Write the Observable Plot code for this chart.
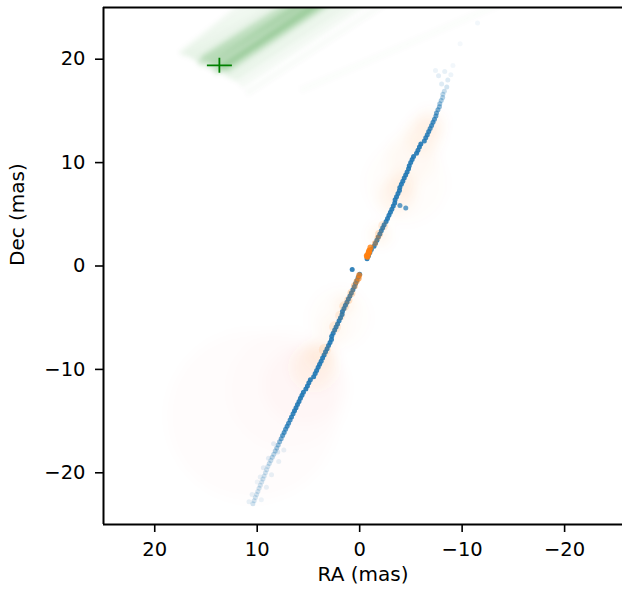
<!DOCTYPE html>
<html><head><meta charset="utf-8">
<script src="https://cdn.jsdelivr.net/npm/d3@7"></script>
<script src="https://cdn.jsdelivr.net/npm/@observablehq/plot@0.6"></script>
<style>html,body{margin:0;padding:0;background:#fff;overflow:hidden} svg{display:block}</style>
</head><body><div id="chart"></div>
<script>
// axis ticks and labels
const xTicks = [20, 10, 0, -10, -20];
const yTicks = [20, 10, 0, -10, -20];
const xLabel = "RA (mas)";
const yLabel = "Dec (mas)";

// green trajectory samples: [ra1, dec1, ra2, dec2, alpha]
const greenLines = [
  [15.07,19.29,1.93,27.61,0.1],[14.59,19.10,1.15,27.61,0.1],[14.10,18.91,0.47,27.61,0.1],
  [15.56,19.68,2.90,27.61,0.1],[16.05,19.87,4.07,27.61,0.08],[16.53,20.16,5.34,27.61,0.07],
  [17.02,20.36,6.80,27.61,0.06],[17.51,20.45,8.26,27.61,0.05],[13.61,18.71,-0.21,27.61,0.09],
  [13.13,18.42,-0.99,27.61,0.07],[12.64,18.13,-1.97,27.61,0.06],[12.15,17.94,-2.94,27.61,0.05],
  [14.39,19.49,2.41,27.61,0.1],[14.78,19.68,1.44,27.61,0.1],[13.81,19.29,0.76,27.61,0.1],
  [15.75,19.49,2.41,27.61,0.09],[11.67,17.46,-3.91,27.61,0.04],[11.08,16.68,-5.86,27.61,0.025],
  [13.42,19.10,0.18,27.61,0.1],[15.37,20.07,3.39,27.61,0.09],[14.20,18.71,0.95,27.61,0.1],
  [13.03,18.91,-0.21,27.61,0.09],[5.82,16.97,-15.60,26.16,0.015]
];
const greenMarker = [[13.69, 19.41]];

// blue components, upper jet: [ra, dec, alpha]
const blueUpper = [
  [-0.72,0.7,0.9],[-0.86,1.0,0.9],[-1.00,1.3,0.9],[-1.14,1.6,0.9],[-1.40,1.9,0.9],[-1.54,2.2,0.9],
  [-1.68,2.5,0.9],[-1.82,2.8,0.9],[-1.97,3.1,0.9],[-2.11,3.4,0.9],[-2.25,3.7,0.9],[-2.39,4.0,0.9],
  [-2.58,4.3,0.9],[-2.72,4.6,0.9],[-2.86,4.9,0.9],[-3.00,5.2,0.9],[-3.14,5.5,0.9],[-3.28,5.8,0.9],
  [-3.42,6.1,0.9],[-3.46,6.4,0.9],[-3.60,6.7,0.9],[-3.74,7.0,0.9],[-3.88,7.3,0.9],[-3.92,7.6,0.9],
  [-4.07,7.9,0.9],[-4.21,8.2,0.9],[-4.35,8.5,0.9],[-4.49,8.8,0.9],[-4.63,9.1,0.9],[-4.77,9.4,0.9],
  [-4.84,9.7,0.9],[-4.98,10.0,0.9],[-5.12,10.3,0.9],[-5.26,10.6,0.9],[-5.55,10.9,0.9],[-5.69,11.2,0.9],
  [-5.83,11.5,0.9],[-5.97,11.8,0.9],[-6.31,12.1,0.85],[-6.45,12.4,0.85],[-6.60,12.7,0.85],[-6.74,13.0,0.85],
  [-6.88,13.3,0.8],[-7.02,13.6,0.8],[-7.16,13.9,0.8],[-7.30,14.2,0.75],[-7.44,14.5,0.7],[-7.50,14.8,0.65],
  [-7.64,15.1,0.6],[-7.78,15.4,0.5],[-7.82,15.7,0.45],[-7.96,16.0,0.4],[-8.10,16.3,0.35],[-8.12,16.6,0.3],
  [-8.26,16.9,0.25],[-8.5,17.3,0.2],[-8.0,17.6,0.15],[-8.6,18.0,0.15],[-7.7,18.4,0.12],[-8.3,18.8,0.1],
  [-8.9,18.5,0.08],[-7.4,18.9,0.08],[-9.1,19.4,0.06],[-11.5,23.5,0.06],[-9.8,21.5,0.05],
  [-3.93,5.86,0.7],[-4.50,5.60,0.7],[0.73,-0.34,0.9]
];

// blue components, lower jet: [ra, dec, alpha]
const blueLower = [
  [0.00,-0.8,0.9],[0.14,-1.1,0.9],[0.27,-1.4,0.9],[0.40,-1.7,0.9],[0.52,-2.0,0.9],[0.66,-2.3,0.9],
  [0.81,-2.6,0.9],[0.95,-2.9,0.9],[1.10,-3.2,0.9],[1.24,-3.5,0.9],[1.39,-3.8,0.9],[1.53,-4.1,0.9],
  [1.68,-4.4,0.9],[1.72,-4.7,0.9],[1.87,-5.0,0.9],[2.01,-5.3,0.9],[2.16,-5.6,0.9],[2.30,-5.9,0.9],
  [2.44,-6.2,0.9],[2.59,-6.5,0.9],[2.73,-6.8,0.9],[2.75,-7.1,0.9],[2.89,-7.4,0.9],[3.04,-7.7,0.9],
  [3.18,-8.0,0.9],[3.33,-8.3,0.9],[3.47,-8.6,0.9],[3.62,-8.9,0.9],[3.76,-9.2,0.9],[3.91,-9.5,0.9],
  [4.05,-9.8,0.9],[4.20,-10.1,0.9],[4.34,-10.4,0.9],[4.49,-10.7,0.9],[4.81,-11.0,0.9],[4.96,-11.3,0.9],
  [5.10,-11.6,0.9],[5.25,-11.9,0.9],[5.49,-12.2,0.9],[5.63,-12.5,0.9],[5.78,-12.8,0.9],[5.92,-13.1,0.9],
  [6.07,-13.4,0.9],[6.21,-13.7,0.9],[6.36,-14.0,0.9],[6.50,-14.3,0.85],[6.65,-14.6,0.85],[6.79,-14.9,0.8],
  [6.94,-15.2,0.8],[7.08,-15.5,0.8],[7.23,-15.8,0.75],[7.37,-16.1,0.75],[7.52,-16.4,0.7],[7.66,-16.7,0.6],
  [7.81,-17.0,0.5],[7.95,-17.3,0.45],[8.09,-17.6,0.4],[8.24,-17.9,0.35],[8.38,-18.2,0.3],[8.53,-18.5,0.3],
  [8.67,-18.8,0.25],[8.82,-19.1,0.25],[8.96,-19.4,0.2],[9.08,-19.7,0.2],[9.20,-20.0,0.2],[9.32,-20.3,0.2],
  [9.44,-20.6,0.2],[9.56,-20.9,0.2],[9.70,-21.2,0.2],[9.82,-21.5,0.2],[9.94,-21.8,0.2],[10.06,-22.1,0.2],
  [10.18,-22.4,0.2],[10.30,-22.7,0.2],[10.42,-23.0,0.2],
  [8.0,-18.0,0.15],[8.9,-18.6,0.12],[7.9,-18.9,0.1],[9.4,-19.5,0.12],[8.6,-20.2,0.1],[9.7,-20.4,0.1],
  [10.0,-20.9,0.08],[9.1,-21.4,0.1],[10.5,-22.1,0.1],[9.6,-22.6,0.08],[10.8,-22.8,0.1],[7.4,-17.8,0.1],
  [8.4,-17.2,0.12]
];

// orange compact components: [ra, dec, radius px, alpha]
const orangeCompact = [
  [-0.75,0.9,3,0.9],[-0.85,1.2,3,0.9],[-0.95,1.5,3,0.9],[-1.05,1.8,3,0.8],[-0.9,1.35,3,0.9],[-0.7,1.0,3,0.9],
  [-1.5,2.2,3,0.4],[-1.75,2.7,3,0.3],[-1.9,3.1,4,0.2],[-2.3,3.9,5,0.12],
  [0.05,-0.9,3,0.7],[0.1,-1.2,3,0.6],[0.3,-1.5,3,0.5],[0.5,-1.9,3.5,0.35],[0.8,-2.6,4,0.25],
  [1.1,-3.3,4,0.2],[1.5,-3.9,5,0.15],[1.9,-4.8,5,0.1],[2.4,-5.9,6,0.1],[3.4,-8.1,6,0.1]
];

// orange extended components: [ra, dec, radius px, alpha]
const orangeExtended = [
  [-2.0,3.0,10,0.07],[-3.6,6.8,18,0.06],[-4.2,8.0,14,0.05],[-5.1,10.5,25,0.03],[-6.2,12.6,18,0.06],
  [-6.9,13.8,14,0.05],[-4.5,8.0,40,0.015],[1.5,-3.8,10,0.07],[2.5,-6.0,14,0.04],[3.8,-8.5,14,0.06],
  [4.5,-9.8,22,0.06],[5.5,-11.5,40,0.02],[2.0,-5.0,30,0.015],[10.5,-14.5,85,0.012],[7.0,-12.0,60,0.01]
];

const cross = {draw(ctx) {ctx.moveTo(-12.5, 0); ctx.lineTo(12.5, 0); ctx.moveTo(0, -7.5); ctx.lineTo(0, 7.5);}};
const blue = "#1f77b4", orange = "#ff7f0e";

const chart = Plot.plot({
  width: 622, height: 596,
  marginLeft: 103, marginRight: 0, marginTop: 7, marginBottom: 72,
  style: {fontFamily: "'DejaVu Sans', sans-serif", fontSize: "19.5px", color: "#000", background: "#fff", overflow: "visible"},
  x: {domain: [25, -25.65]},
  y: {domain: [-25, 25]},
  r: {type: "identity"},
  marks: [
    Plot.dot(orangeExtended, {x: d => d[0], y: d => d[1], r: d => d[2], fill: orange, fillOpacity: d => d[3], clip: true}),
    Plot.link(greenLines, {x1: d => d[0], y1: d => d[1], x2: d => d[2], y2: d => d[3], stroke: "green", strokeOpacity: d => d[4], strokeWidth: 7, clip: true}),
    Plot.dot(blueLower, {x: d => d[0], y: d => d[1], r: 2.5, fill: blue, fillOpacity: d => d[2]}),
    Plot.dot(blueUpper, {x: d => d[0], y: d => d[1], r: 2.5, fill: blue, fillOpacity: d => d[2]}),
    Plot.dot(orangeCompact, {x: d => d[0], y: d => d[1], r: d => d[2], fill: orange, fillOpacity: d => d[3]}),
    Plot.dot(greenMarker, {x: d => d[0], y: d => d[1], symbol: cross, r: 10, stroke: "green", strokeWidth: 1.8, fill: "none"}),
    Plot.ruleX([25], {strokeWidth: 2}),
    Plot.ruleY([25, -25], {strokeWidth: 2}),
    Plot.axisX(xTicks, {tickSize: 8, tickPadding: 10, strokeWidth: 1.6, fontSize: 19.5, label: null}),
    Plot.axisY(yTicks, {tickSize: 8, tickPadding: 10, strokeWidth: 1.6, fontSize: 19.5, label: null}),
    Plot.text([xLabel], {text: d => d, frameAnchor: "bottom", dy: 56, fontSize: 20}),
    Plot.text([yLabel], {text: d => d, frameAnchor: "left", dx: -86, rotate: -90, fontSize: 20})
  ]
});

// soften the extended components and the trajectory band
const ns = "http://www.w3.org/2000/svg";
const defs = document.createElementNS(ns, "defs");
function addBlur(id, sd) {
  const filter = document.createElementNS(ns, "filter");
  filter.setAttribute("id", id);
  filter.setAttribute("x", "-50%"); filter.setAttribute("y", "-50%");
  filter.setAttribute("width", "200%"); filter.setAttribute("height", "200%");
  const blur = document.createElementNS(ns, "feGaussianBlur");
  blur.setAttribute("stdDeviation", sd);
  filter.appendChild(blur); defs.appendChild(filter);
}
addBlur("glowblur", 6);
addBlur("lineblur", 2);
chart.insertBefore(defs, chart.firstChild);
const dotGroups = chart.querySelectorAll('g[aria-label="dot"]');
if (dotGroups.length) dotGroups[0].setAttribute("filter", "url(#glowblur)");
const linkGroup = chart.querySelector('g[aria-label="link"]');
if (linkGroup) linkGroup.setAttribute("filter", "url(#lineblur)");

document.getElementById("chart").appendChild(chart);
</script>
</body></html>
